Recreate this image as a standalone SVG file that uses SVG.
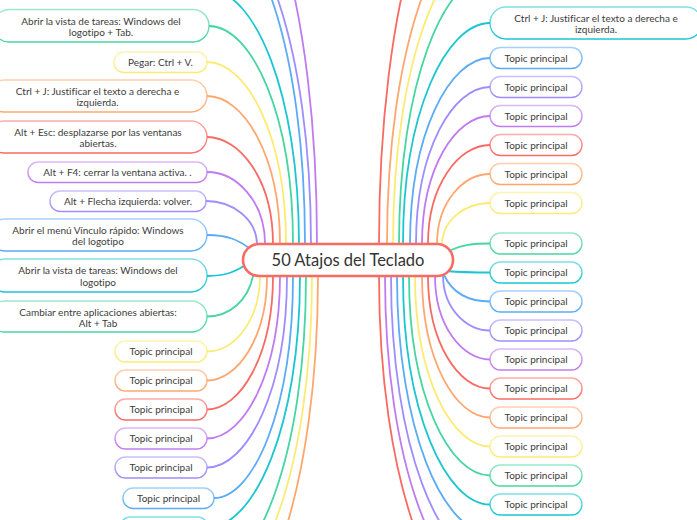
<svg xmlns="http://www.w3.org/2000/svg" width="697" height="520" viewBox="0 0 697 520">
<defs>
<linearGradient id="g-red" x1="0" y1="0" x2="0" y2="1"><stop offset="0" stop-color="#F96A63" stop-opacity="0.55"/><stop offset="1" stop-color="#F96A63"/></linearGradient>
<linearGradient id="g-orange" x1="0" y1="0" x2="0" y2="1"><stop offset="0" stop-color="#FFA76E" stop-opacity="0.55"/><stop offset="1" stop-color="#FFA76E"/></linearGradient>
<linearGradient id="g-yellow" x1="0" y1="0" x2="0" y2="1"><stop offset="0" stop-color="#FCEB73" stop-opacity="0.55"/><stop offset="1" stop-color="#FCEB73"/></linearGradient>
<linearGradient id="g-green" x1="0" y1="0" x2="0" y2="1"><stop offset="0" stop-color="#46D69F" stop-opacity="0.55"/><stop offset="1" stop-color="#46D69F"/></linearGradient>
<linearGradient id="g-cyan" x1="0" y1="0" x2="0" y2="1"><stop offset="0" stop-color="#1AC6D2" stop-opacity="0.55"/><stop offset="1" stop-color="#1AC6D2"/></linearGradient>
<linearGradient id="g-blue" x1="0" y1="0" x2="0" y2="1"><stop offset="0" stop-color="#5BABF5" stop-opacity="0.55"/><stop offset="1" stop-color="#5BABF5"/></linearGradient>
<linearGradient id="g-lav" x1="0" y1="0" x2="0" y2="1"><stop offset="0" stop-color="#9D8DFE" stop-opacity="0.55"/><stop offset="1" stop-color="#9D8DFE"/></linearGradient>
<linearGradient id="g-purple" x1="0" y1="0" x2="0" y2="1"><stop offset="0" stop-color="#C07BF0" stop-opacity="0.55"/><stop offset="1" stop-color="#C07BF0"/></linearGradient>
</defs>
<style>
.edges path{fill:none;stroke-width:1.8;stroke-linecap:round}
.e-red{stroke:#F96A63}.e-orange{stroke:#FFA76E}.e-yellow{stroke:#FCEB73}.e-green{stroke:#46D69F}
.e-cyan{stroke:#1AC6D2}.e-blue{stroke:#5BABF5}.e-lav{stroke:#9D8DFE}.e-purple{stroke:#C07BF0}
.node rect{fill:#FFFFFF;stroke-width:1.4}
.n-red rect{stroke:url(#g-red)}.n-orange rect{stroke:url(#g-orange)}.n-yellow rect{stroke:url(#g-yellow)}.n-green rect{stroke:url(#g-green)}
.n-cyan rect{stroke:url(#g-cyan)}.n-blue rect{stroke:url(#g-blue)}.n-lav rect{stroke:url(#g-lav)}.n-purple rect{stroke:url(#g-purple)}
.node text{font-family:Lato,"Noto Sans",sans-serif;font-size:10px;fill:#3C3C3C;text-anchor:middle;font-variant-ligatures:none}
#center rect{fill:#FFFFFF;stroke:#F96A63;stroke-width:2.6}
#center text{font-family:Lato,"Noto Sans",sans-serif;font-size:16.5px;fill:#333333;text-anchor:middle}
</style>
<rect x="0" y="0" width="697" height="520" fill="#FFFFFF"/>
<g class="edges">
<path class="e-purple" d="M317,244 C317,1.6 263,-160 209,-160"/>
<path class="e-lav" d="M311,244 C311,44.8 260,-88 209,-88"/>
<path class="e-blue" d="M305,244 C305,49.6 257,-80 209,-80"/>
<path class="e-cyan" d="M299,244 C299,91.6 254,-10 209,-10"/>
<path class="e-green" d="M293,244 C293,113.2 251,26 209,26"/>
<path class="e-yellow" d="M286,244 C286,134.8 246.5,62 207,62"/>
<path class="e-orange" d="M280,244 C280,155.2 243.5,96 207,96"/>
<path class="e-red" d="M273,244 C273,179.8 240,137 207,137"/>
<path class="e-purple" d="M265,244 C265,200.8 236,172 207,172"/>
<path class="e-lav" d="M257,245 C257,218.2 231.5,201 206,201"/>
<path class="e-blue" d="M207,235 C228,235 238,240 249,248"/>
<path class="e-cyan" d="M207,276 C225,276 234,272 244,266"/>
<path class="e-green" d="M207,316.5 C230,316.5 248,300 253,276"/>
<path class="e-yellow" d="M260,276 C260,321.3 233.5,351.5 207,351.5"/>
<path class="e-orange" d="M267,276 C267,338.7 237,380.5 207,380.5"/>
<path class="e-red" d="M273,276 C273,356.1 240,409.5 207,409.5"/>
<path class="e-purple" d="M280,276 C280,373.5 243.5,438.5 207,438.5"/>
<path class="e-lav" d="M287,276 C287,390.9 247,467.5 207,467.5"/>
<path class="e-blue" d="M293,276 C293,409.2 253.5,498 214,498"/>
<path class="e-cyan" d="M300,276 C300,427 254,527.5 208,527.5"/>
<path class="e-green" d="M306,276 C306,455.4 256.5,575 207,575"/>
<path class="e-yellow" d="M312,276 C312,470.4 259.5,600 207,600"/>
<path class="e-orange" d="M318,276 C318,491.4 262.5,635 207,635"/>
<path class="e-red" d="M379,244 C379,-1.4 434.5,-165 490,-165"/>
<path class="e-orange" d="M387,244 C387,46.6 438.5,-85 490,-85"/>
<path class="e-yellow" d="M393,244 C393,64.6 441.5,-55 490,-55"/>
<path class="e-green" d="M399,244 C399,82.6 444.5,-25 490,-25"/>
<path class="e-cyan" d="M403,244 C403,111.4 446.5,23 490,23"/>
<path class="e-blue" d="M410,244 C410,132.4 450,58 490,58"/>
<path class="e-lav" d="M416,244 C416,149.8 453,87 490,87"/>
<path class="e-purple" d="M422,244 C422,167.2 456,116 490,116"/>
<path class="e-red" d="M428,244 C428,184.6 459,145 490,145"/>
<path class="e-orange" d="M437,244 C437,202 463.5,174 490,174"/>
<path class="e-yellow" d="M442,245 C442,219.4 466,203 490,203"/>
<path class="e-green" d="M490,243.5 C472,243.5 462,245 451,250"/>
<path class="e-cyan" d="M490,272.5 C470,272.5 458,272 446,271"/>
<path class="e-blue" d="M490,301.5 C466,301.5 452,292 444,275"/>
<path class="e-lav" d="M443,275 C443,308.7 466.5,330.5 490,330.5"/>
<path class="e-purple" d="M435,276 C435,326.1 462.5,359.5 490,359.5"/>
<path class="e-red" d="M428,276 C428,343.5 459,388.5 490,388.5"/>
<path class="e-orange" d="M422,276 C422,360.9 456,417.5 490,417.5"/>
<path class="e-yellow" d="M415,276 C415,378.3 452.5,446.5 490,446.5"/>
<path class="e-green" d="M409,276 C409,395.7 449.5,475.5 490,475.5"/>
<path class="e-cyan" d="M403,276 C403,413.1 446.5,504.5 490,504.5"/>
<path class="e-blue" d="M397,276 C397,430.2 443.5,533 490,533"/>
<path class="e-lav" d="M391,276 C391,447.6 440.5,562 490,562"/>
<path class="e-purple" d="M385,276 C385,465 437.5,591 490,591"/>
<path class="e-red" d="M379,276 C379,482.4 434.5,620 490,620"/>
</g>

<g id="center"><rect x="243" y="244" width="210" height="32" rx="16"/><text x="348" y="266">50 Atajos del Teclado</text></g>

<g id="n-l1" class="node n-green"><rect x="-7" y="9.5" width="216" height="32.5" rx="16"/><text x="101" y="24.5">Abrir la vista de tareas: Windows del</text><text x="101" y="36">logotipo + Tab.</text></g>
<g id="n-l2" class="node n-yellow"><rect x="114" y="52" width="93" height="20.5" rx="10"/><text x="160.5" y="65.5">Pegar: Ctrl + V.</text></g>
<g id="n-l3" class="node n-orange"><rect x="-12" y="80" width="219" height="32" rx="16"/><text x="97.5" y="94.5">Ctrl + J: Justificar el texto a derecha e</text><text x="97.5" y="106">izquierda.</text></g>
<g id="n-l4" class="node n-red"><rect x="-12" y="121" width="219" height="32" rx="16"/><text x="98" y="135.5">Alt + Esc: desplazarse por las ventanas</text><text x="98" y="147">abiertas.</text></g>
<g id="n-l5" class="node n-purple"><rect x="28" y="162" width="179" height="20.5" rx="10"/><text x="117.5" y="175.5">Alt + F4: cerrar la ventana activa. .</text></g>
<g id="n-l6" class="node n-lav"><rect x="50" y="191" width="156" height="20.5" rx="10"/><text x="128" y="204.5">Alt + Flecha izquierda: volver.</text></g>
<g id="n-l7" class="node n-blue"><rect x="-11" y="219" width="218" height="32" rx="16"/><text x="98" y="233.5">Abrir el menú Vínculo rápido: Windows</text><text x="98" y="245">del logotipo</text></g>
<g id="n-l8" class="node n-cyan"><rect x="-11" y="259" width="218" height="33" rx="16"/><text x="98" y="274">Abrir la vista de tareas: Windows del</text><text x="98" y="285.5">logotipo</text></g>
<g id="n-l9" class="node n-green"><rect x="-11" y="301" width="218" height="31" rx="15.5"/><text x="98" y="315.5">Cambiar entre aplicaciones abiertas:</text><text x="98" y="327">Alt + Tab</text></g>
<g id="n-l10" class="node n-yellow"><rect x="115" y="341" width="92" height="21" rx="10.5"/><text x="161" y="355">Topic principal</text></g>
<g id="n-l11" class="node n-orange"><rect x="115" y="370" width="92" height="21" rx="10.5"/><text x="161" y="384">Topic principal</text></g>
<g id="n-l12" class="node n-red"><rect x="115" y="399" width="92" height="21" rx="10.5"/><text x="161" y="413">Topic principal</text></g>
<g id="n-l13" class="node n-purple"><rect x="115" y="428" width="92" height="21" rx="10.5"/><text x="161" y="442">Topic principal</text></g>
<g id="n-l14" class="node n-lav"><rect x="115" y="457" width="92" height="21" rx="10.5"/><text x="161" y="471">Topic principal</text></g>
<g id="n-l15" class="node n-blue"><rect x="123" y="488" width="91" height="20.5" rx="10"/><text x="168.5" y="501.5">Topic principal</text></g>
<g id="n-l16" class="node n-cyan"><rect x="120" y="517" width="88" height="21" rx="10.5"/></g>

<g id="n-r1" class="node n-cyan"><rect x="490" y="7" width="212" height="32" rx="16"/><text x="596" y="21.5">Ctrl + J: Justificar el texto a derecha e</text><text x="596" y="33">izquierda.</text></g>
<g id="n-r2" class="node n-blue"><rect x="490" y="47.5" width="92" height="21" rx="10.5"/><text x="536" y="61.5">Topic principal</text></g>
<g id="n-r3" class="node n-lav"><rect x="490" y="76.5" width="92" height="21" rx="10.5"/><text x="536" y="90.5">Topic principal</text></g>
<g id="n-r4" class="node n-purple"><rect x="490" y="105.5" width="92" height="21" rx="10.5"/><text x="536" y="119.5">Topic principal</text></g>
<g id="n-r5" class="node n-red"><rect x="490" y="134.5" width="92" height="21" rx="10.5"/><text x="536" y="148.5">Topic principal</text></g>
<g id="n-r6" class="node n-orange"><rect x="490" y="163.5" width="92" height="21" rx="10.5"/><text x="536" y="177.5">Topic principal</text></g>
<g id="n-r7" class="node n-yellow"><rect x="490" y="192.5" width="92" height="21" rx="10.5"/><text x="536" y="206.5">Topic principal</text></g>
<g id="n-r8" class="node n-green"><rect x="490" y="233" width="92" height="21" rx="10.5"/><text x="536" y="247">Topic principal</text></g>
<g id="n-r9" class="node n-cyan"><rect x="490" y="262" width="92" height="21" rx="10.5"/><text x="536" y="276">Topic principal</text></g>
<g id="n-r10" class="node n-blue"><rect x="490" y="291" width="92" height="21" rx="10.5"/><text x="536" y="305">Topic principal</text></g>
<g id="n-r11" class="node n-lav"><rect x="490" y="320" width="92" height="21" rx="10.5"/><text x="536" y="334">Topic principal</text></g>
<g id="n-r12" class="node n-purple"><rect x="490" y="349" width="92" height="21" rx="10.5"/><text x="536" y="363">Topic principal</text></g>
<g id="n-r13" class="node n-red"><rect x="490" y="378" width="92" height="21" rx="10.5"/><text x="536" y="392">Topic principal</text></g>
<g id="n-r14" class="node n-orange"><rect x="490" y="407" width="92" height="21" rx="10.5"/><text x="536" y="421">Topic principal</text></g>
<g id="n-r15" class="node n-yellow"><rect x="490" y="436" width="92" height="21" rx="10.5"/><text x="536" y="450">Topic principal</text></g>
<g id="n-r16" class="node n-green"><rect x="490" y="465" width="92" height="21" rx="10.5"/><text x="536" y="479">Topic principal</text></g>
<g id="n-r17" class="node n-cyan"><rect x="490" y="494" width="92" height="21" rx="10.5"/><text x="536" y="508">Topic principal</text></g>
</svg>
